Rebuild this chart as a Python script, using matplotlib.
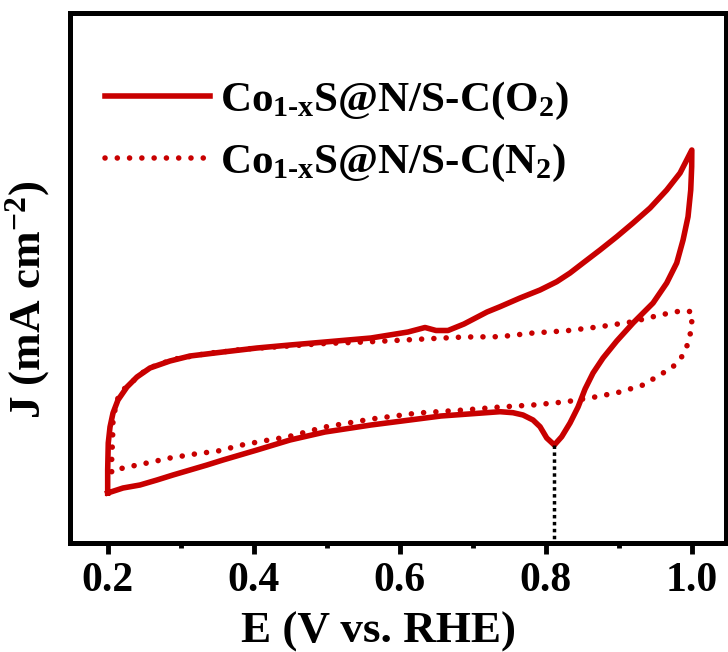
import matplotlib
matplotlib.use('Agg')
import matplotlib.pyplot as plt
from matplotlib.ticker import MultipleLocator

# CV curves: E (V vs. RHE), J in arbitrary units (the original shows no y scale)
e_o2 = [0.200, 0.200, 0.2008, 0.2032, 0.2073, 0.2141, 0.2264, 0.2401, 0.2579, 0.2853,
        0.3127, 0.3579, 0.4045, 0.4497, 0.4976, 0.5606, 0.6113, 0.6346, 0.6497, 0.6661,
        0.6880, 0.7195, 0.7373, 0.7647, 0.7921, 0.8150, 0.8332, 0.8510, 0.8743, 0.8972,
        0.9195, 0.9428, 0.9656, 0.9839, 1.000, 0.9998, 0.9985, 0.9948, 0.9880, 0.9793,
        0.9656, 0.9469, 0.9195, 0.8972, 0.8784, 0.8647, 0.8538, 0.8442, 0.8332, 0.8218,
        0.8117, 0.8013, 0.7921, 0.7825, 0.7688, 0.7551, 0.7373, 0.6565, 0.5606, 0.4976,
        0.4497, 0.4045, 0.3812, 0.3579, 0.3360, 0.3127, 0.2894, 0.2675, 0.2442, 0.2210,
        0.200]
j_o2 = [-0.48, -0.25, 0.02, 0.18, 0.32, 0.45, 0.58, 0.68, 0.77, 0.84,
        0.89, 0.93, 0.97, 1.00, 1.03, 1.07, 1.13, 1.175, 1.145, 1.145,
        1.21, 1.33, 1.383, 1.47, 1.55, 1.633, 1.72, 1.82, 1.95, 2.083,
        2.22, 2.37, 2.55, 2.72, 2.95, 2.783, 2.55, 2.283, 2.05, 1.82,
        1.62, 1.42, 1.22, 1.04, 0.87, 0.72, 0.56, 0.38, 0.22, 0.083,
        0.00, 0.07, 0.183, 0.25, 0.30, 0.323, 0.333, 0.29, 0.20, 0.13,
        0.05, -0.05, -0.10, -0.15, -0.20, -0.25, -0.30, -0.35, -0.40, -0.43,
        -0.48]

e_n2 = [0.2055, 0.2055, 0.2068, 0.2073, 0.2100, 0.2141, 0.2209, 0.2333, 0.2470, 0.2607,
        0.2757, 0.2922, 0.3086, 0.3237, 0.3401, 0.3566, 0.3881, 0.4341, 0.4976, 0.5612,
        0.6250, 0.6880, 0.7373, 0.7825, 0.8291, 0.8743, 0.9195, 0.9565, 0.9862, 0.9999,
        0.9999, 0.9976, 0.9930, 0.9862, 0.9743, 0.9606, 0.9332, 0.9017, 0.8698, 0.8287,
        0.7825, 0.7373, 0.6880, 0.6250, 0.5612, 0.4976, 0.4456, 0.4127, 0.3839, 0.3511,
        0.3196, 0.2853, 0.2538, 0.2210, 0.2055]
j_n2 = [-0.267, -0.15, 0.08, 0.25, 0.35, 0.47, 0.55, 0.63, 0.72, 0.78,
        0.82, 0.86, 0.88, 0.90, 0.92, 0.93, 0.96, 0.983, 1.015, 1.033,
        1.057, 1.08, 1.083, 1.12, 1.143, 1.183, 1.233, 1.30, 1.343, 1.333,
        1.22, 1.10, 0.983, 0.883, 0.783, 0.72, 0.60, 0.53, 0.483, 0.433,
        0.40, 0.38, 0.35, 0.32, 0.26, 0.18, 0.08, 0.04, 0.00, -0.06,
        -0.09, -0.13, -0.18, -0.23, -0.267]

# ORR reduction peak
e_peak = 0.8117
j_peak = 0.00

labels = ['Co$_{\\mathregular{1‐x}}$S@N/S-C(O$_{\\mathregular{2}}$)',
          'Co$_{\\mathregular{1‐x}}$S@N/S-C(N$_{\\mathregular{2}}$)']
xticks = [0.2, 0.4, 0.6, 0.8, 1.0]

plt.rcParams['font.family'] = ['Liberation Serif', 'DejaVu Serif']
plt.rcParams['font.weight'] = 'bold'
plt.rcParams['mathtext.fontset'] = 'custom'
plt.rcParams['mathtext.rm'] = 'Liberation Serif:bold'
plt.rcParams['mathtext.it'] = 'Liberation Serif:bold'
plt.rcParams['mathtext.bf'] = 'Liberation Serif:bold'

red = '#c80000'

fig = plt.figure(figsize=(7.28, 6.52), dpi=100)
ax = fig.add_axes([70/728, 1-543/652, 656/728, 530/652])

ax.plot(e_o2, j_o2, color=red, lw=4.0, solid_joinstyle='round', label=labels[0])
ax.plot(e_n2, j_n2, color=red, lw=4.0, linestyle=(0, (0.01, 2.2)),
        dash_capstyle='round', label=labels[1])
ax.plot([e_peak, e_peak], [j_peak, -1.2], color='black', lw=2.5, linestyle=(0, (1, 1)))

ax.set_xlim(0.1484, 1.0468)
ax.set_ylim(-0.98, 4.32)

ax.set_xticks(xticks)
ax.set_xticklabels(['%.1f' % v for v in xticks])
ax.xaxis.set_minor_locator(MultipleLocator(0.1))
ax.set_yticks([])
ax.tick_params(axis='x', which='major', direction='out', length=8, width=3.5,
               labelsize=30, pad=6)
ax.tick_params(axis='x', which='minor', direction='out', length=3.5, width=3.5)
for s in ax.spines.values():
    s.set_linewidth(3.6)

ax.set_xlabel('E (V vs. RHE)', fontsize=32.5, fontweight='bold', va='baseline')
ax.set_ylabel('J (mA cm$^{\\mathregular{-2}}$)', fontsize=32.5, fontweight='bold',
              va='baseline')
ax.xaxis.set_label_coords(0.471, -0.1887)
ax.yaxis.set_label_coords(-0.0457, 0.4585)

ax.legend(loc='upper left', bbox_to_anchor=(0.053, 0.874), frameon=False,
          fontsize=31, handlelength=2.45, handletextpad=0.23, labelspacing=0.47,
          borderpad=0, borderaxespad=0)

fig.savefig('out.png', dpi=100)
plt.close(fig)
